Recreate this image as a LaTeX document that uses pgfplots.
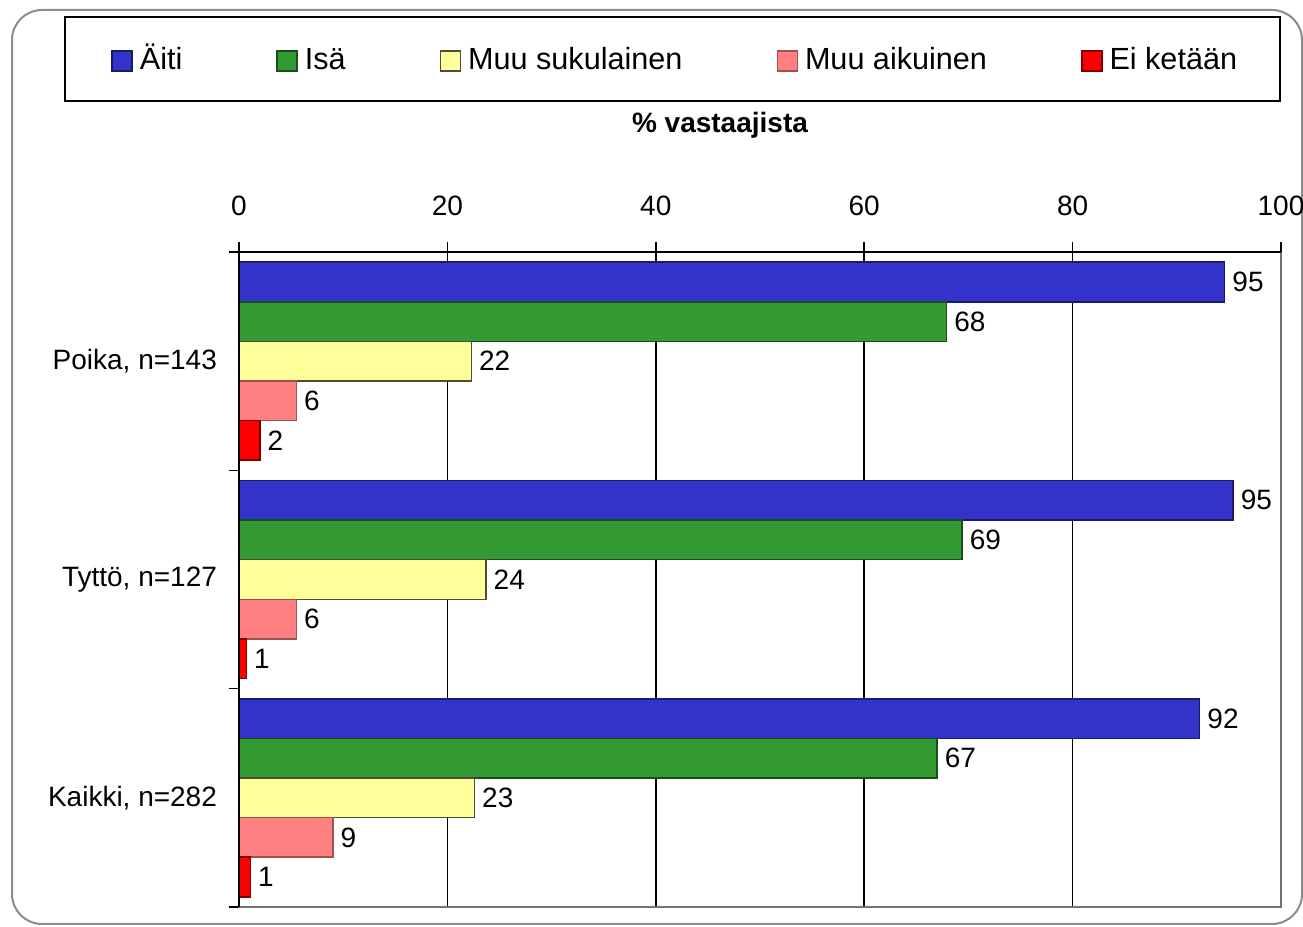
\documentclass[border=0pt]{standalone}
\usepackage{fontspec}
\setmainfont{Liberation Sans}
\usepackage{pgfplots}
\pgfplotsset{compat=1.18}
\definecolor{cBlue}{HTML}{3333CC}
\definecolor{cBlueD}{HTML}{1A1A66}
\definecolor{cGreen}{HTML}{339933}
\definecolor{cGreenD}{HTML}{1A4D1A}
\definecolor{cYellow}{HTML}{FFFF99}
\definecolor{cYellowD}{HTML}{4D4D33}
\definecolor{cPink}{HTML}{FF8080}
\definecolor{cPinkD}{HTML}{A05050}
\definecolor{cRed}{HTML}{FF0000}
\definecolor{cRedD}{HTML}{800000}
\begin{document}
\begin{tikzpicture}
\useasboundingbox (0pt,0pt) rectangle (651.5pt,463.5pt);
\clip (0pt,0pt) rectangle (651.5pt,463.5pt);
\draw[black!45, line width=1pt, rounded corners=15pt] (6pt,1.5pt) rectangle (651pt,458.5pt);
\draw[black, line width=0.75pt] (32.5pt,413pt) rectangle (640pt,455pt);
\node[font=\bfseries\fontsize{14}{16}\selectfont] at (360pt,401pt) {\% vastaajista};
\begin{axis}[
  at={(119.5pt,10pt)}, anchor=south west,
  width=521pt, height=327.5pt, scale only axis,
  xbar, bar width=0.1814,
  xmin=0, xmax=100, ymin=-0.5, ymax=2.5,
  xtick={20,40,60,80}, extra x ticks={0,100},
  extra x tick style={grid=none},
  xtick pos=upper, xticklabel pos=upper,
  xmajorgrids, major grid style={black, line width=0.75pt},
  tick style={black, line width=0.75pt},
  major tick length=5pt, tick align=outside,
  ytick={-0.5,0.5,1.5,2.5}, yticklabels={}, ytick pos=left,
  extra y ticks={0,1,2},
  extra y tick labels={{Kaikki, n=282},{Tyttö, n=127},{Poika, n=143}},
  extra y tick style={major tick length=0pt},
  /pgf/number format/assume math mode=true,
  ticklabel style={font=\fontsize{14}{16}\selectfont},
  xticklabel style={yshift=9.5pt},
  yticklabel style={xshift=-7.5pt},
  axis line style={black!55, line width=0.75pt},
  nodes near coords, point meta=explicit symbolic,
  nodes near coords style={font=\fontsize{14}{16}\selectfont, black,
    anchor=west, inner sep=3.5pt},
  clip=false,
  legend columns=5,
  legend style={draw=none, fill=none, at={(-0.1229,1.2916)}, anchor=west,
    inner sep=0pt, font=\fontsize{15.3}{18}\selectfont,
    nodes={text height=11pt, text depth=3pt},
    /tikz/every odd column/.append style={column sep=1.5pt},
    /tikz/every even column/.append style={column sep=45pt}},
  legend cell align=left,
  legend image code/.code={\draw[#1, line width=0.75pt] (0pt,-5pt) rectangle (10pt,5pt);},
]
\addplot[fill=cBlue, draw=cBlueD, line width=0.75pt, bar shift=0.3628]
  coordinates {(94.6,2) [95] (95.4,1) [95] (92.2,0) [92]};
\addplot[fill=cGreen, draw=cGreenD, line width=0.75pt, bar shift=0.1814]
  coordinates {(67.9,2) [68] (69.4,1) [69] (67.0,0) [67]};
\addplot[fill=cYellow, draw=cYellowD, line width=0.75pt, bar shift=0]
  coordinates {(22.3,2) [22] (23.7,1) [24] (22.6,0) [23]};
\addplot[fill=cPink, draw=cPinkD, line width=0.75pt, bar shift=-0.1814]
  coordinates {(5.5,2) [6] (5.5,1) [6] (9.0,0) [9]};
\addplot[fill=cRed, draw=cRedD, line width=0.75pt, bar shift=-0.3628]
  coordinates {(2.0,2) [2] (0.7,1) [1] (1.1,0) [1]};
\legend{Äiti, Isä, Muu sukulainen, Muu aikuinen, Ei ketään}
\draw[black, line width=0.75pt] (axis cs:0,-0.5) -- (axis cs:0,2.5) -- (axis cs:100,2.5);
\end{axis}
\end{tikzpicture}
\end{document}
